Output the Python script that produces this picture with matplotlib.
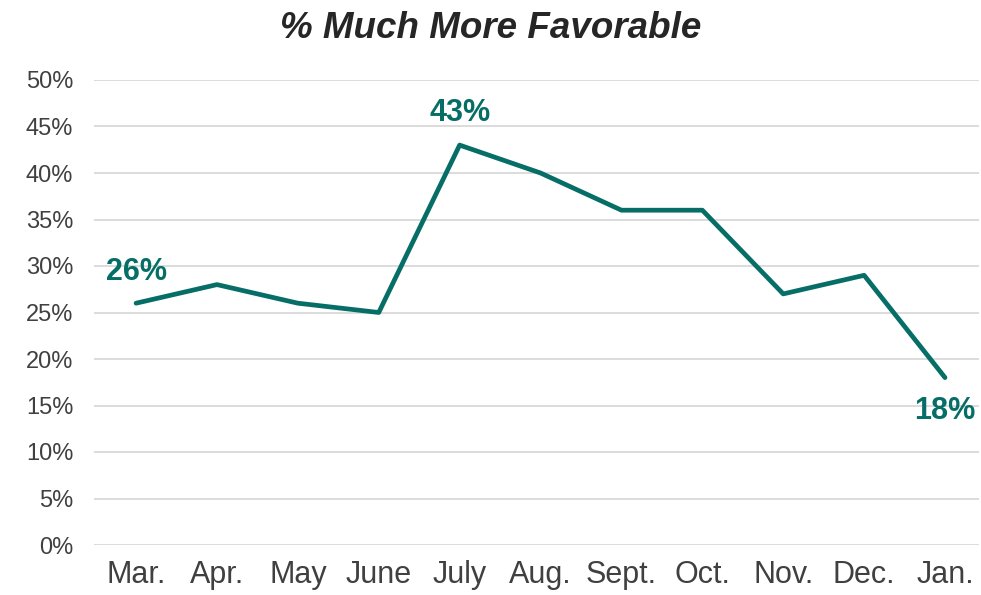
import matplotlib.pyplot as plt
from matplotlib.ticker import PercentFormatter

plt.rcParams['font.family'] = ['Liberation Sans', 'DejaVu Sans']

# Данные
months = ['Mar.', 'Apr.', 'May', 'June', 'July', 'Aug.', 'Sept.', 'Oct.', 'Nov.', 'Dec.', 'Jan.']
much_more_favorable = [26, 28, 26, 25, 43, 40, 36, 36, 27, 29, 18]
labeled = {0: 'above', 4: 'above', 10: 'below'}

line_color = '#066E66'

fig = plt.figure(figsize=(9.81, 5.95), dpi=100)
ax = fig.add_axes([94 / 981, 50 / 595, 885 / 981, 465 / 595])

x = list(range(len(months)))
ax.plot(x, much_more_favorable, color=line_color, linewidth=3.4, solid_capstyle='round', zorder=3)

# Подписи значений
for i, pos in labeled.items():
    v = much_more_favorable[i]
    dy = 12 if pos == 'above' else -13
    va = 'bottom' if pos == 'above' else 'top'
    ax.annotate(f'{v}%', (i, v), xytext=(0, dy), textcoords='offset points',
                ha='center', va=va, fontsize=22, fontweight='bold', color=line_color)

ax.set_xlim(-0.52, 10.42)
ax.set_ylim(0, 50)
ax.set_yticks(range(0, 51, 5))
ax.yaxis.set_major_formatter(PercentFormatter(decimals=0))
ax.set_xticks(x)
ax.set_xticklabels(months)

ax.grid(axis='y', color='#D9D9D9', linewidth=1.3)
ax.set_axisbelow(True)
for s in ax.spines.values():
    s.set_visible(False)
ax.tick_params(axis='both', length=0, colors='#404040')
ax.tick_params(axis='y', labelsize=17, pad=15)
ax.tick_params(axis='x', labelsize=22, pad=10.5)

fig.suptitle('% Much More Favorable', x=0.5, y=0.982, fontsize=26.5,
             fontweight='bold', fontstyle='italic', color='#262626')

fig.savefig('out.png', dpi=100)
